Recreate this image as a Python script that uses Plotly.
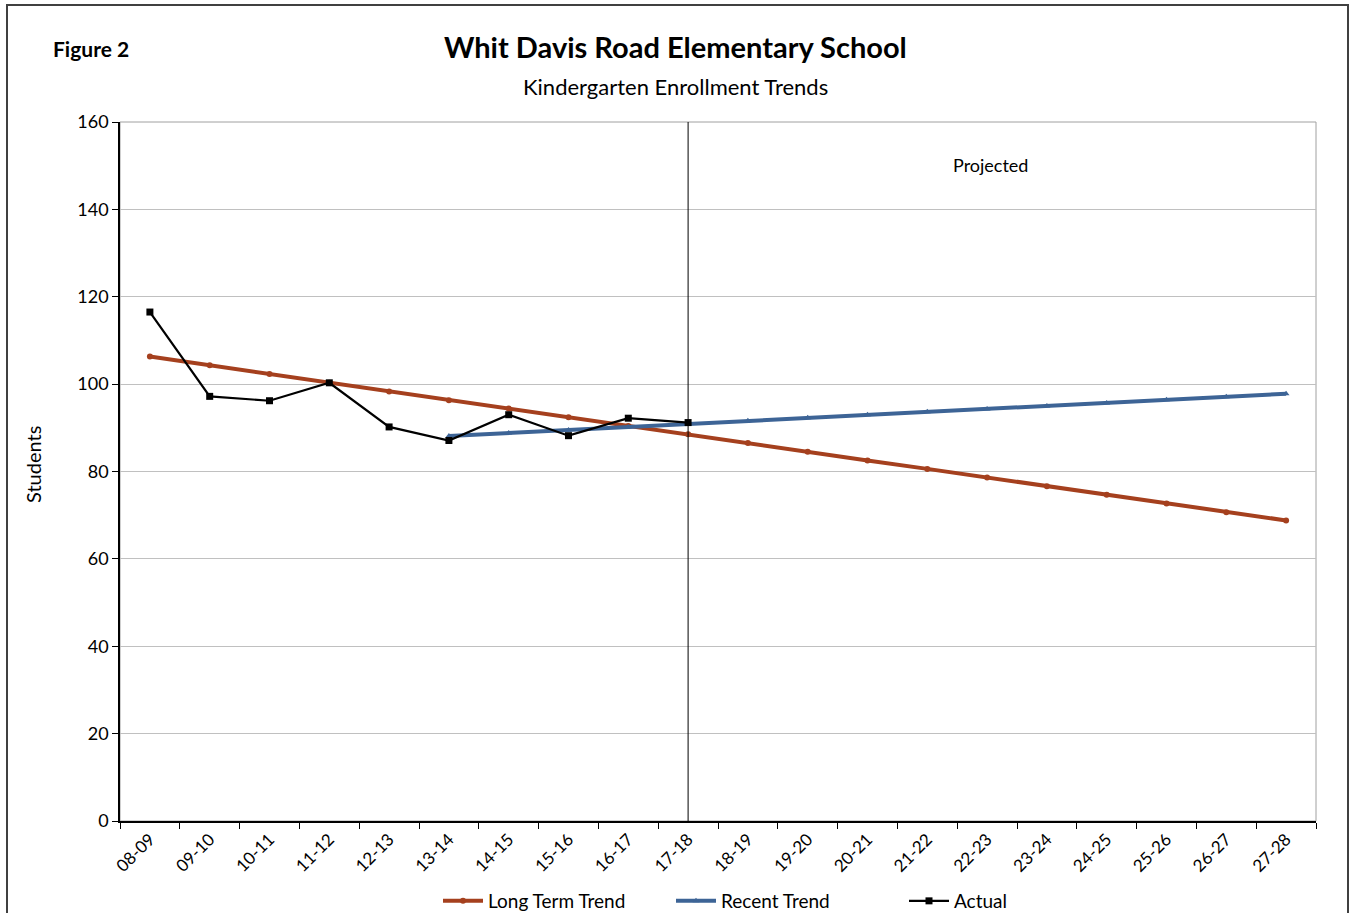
import plotly.graph_objects as go

categories = ["08-09", "09-10", "10-11", "11-12", "12-13", "13-14", "14-15", "15-16", "16-17", "17-18",
              "18-19", "19-20", "20-21", "21-22", "22-23", "23-24", "24-25", "25-26", "26-27", "27-28"]
long_term = [106.3, 104.3, 102.3, 100.3, 98.3, 96.3, 94.4, 92.4, 90.4, 88.5,
             86.5, 84.5, 82.5, 80.6, 78.6, 76.6, 74.7, 72.7, 70.7, 68.8]
recent = [None, None, None, None, None, 88.1, 88.8, 89.5, 90.2, 90.9,
          91.6, 92.3, 93.0, 93.7, 94.3, 95.0, 95.7, 96.4, 97.1, 97.8]
actual = [116.5, 97.2, 96.2, 100.3, 90.2, 87.1, 93.0, 88.2, 92.2, 91.2]
yticks = [0, 20, 40, 60, 80, 100, 120, 140, 160]
divider_label = "17-18"

FONT = "Lato, 'Open Sans', sans-serif"
W, H = 1351, 913
L, R, T, B = 120, 35, 122, 92
PW, PH = W - L - R, H - T - B


def px(x):
    return (x - L) / PW


def py(y):
    return (H - B - y) / PH


fig = go.Figure()
fig.add_trace(go.Scatter(x=categories, y=long_term, name="Long Term Trend", mode="lines+markers",
                         line=dict(color="#A5401E", width=4),
                         marker=dict(symbol="circle", size=6, color="#A5401E")))
fig.add_trace(go.Scatter(x=categories, y=recent, name="Recent Trend", mode="lines+markers",
                         line=dict(color="#3D6496", width=4),
                         marker=dict(symbol="triangle-up", size=6, color="#3D6496")))
fig.add_trace(go.Scatter(x=categories[:len(actual)], y=actual, name="Actual", mode="lines+markers",
                         line=dict(color="#000000", width=2.2),
                         marker=dict(symbol="square", size=7, color="#000000")))

div_idx = categories.index(divider_label)
shapes = [
    dict(type="rect", xref="paper", yref="paper", x0=0, x1=1, y0=0, y1=1,
         line=dict(color="#A0A0A0", width=1), layer="below"),
    dict(type="line", xref="x", yref="paper", x0=div_idx, x1=div_idx, y0=0, y1=1,
         line=dict(color="#000000", width=1)),
    dict(type="rect", xref="paper", yref="paper", x0=px(7), x1=px(1348), y0=py(930), y1=py(5),
         line=dict(color="#404040", width=2)),
]

fig.update_layout(
    width=W, height=H,
    margin=dict(l=L, r=R, t=T, b=B, autoexpand=False),
    paper_bgcolor="white", plot_bgcolor="white",
    font=dict(family=FONT, color="#000000"),
    showlegend=True,
    legend=dict(orientation="h", xref="container", yref="container",
                x=438 / W, xanchor="left", y=1 - 901 / H, yanchor="middle",
                font=dict(size=19, family=FONT), itemwidth=40, traceorder="normal",
                entrywidth=178, entrywidthmode="pixels"),
    shapes=shapes,
    annotations=[
        dict(text="<b>Whit Davis Road Elementary School</b>", xref="paper", yref="paper",
             x=px(675), y=py(46), xanchor="center", yanchor="middle",
             showarrow=False, font=dict(size=29, family=FONT)),
        dict(text="Kindergarten Enrollment Trends", xref="paper", yref="paper",
             x=px(675), y=py(86), xanchor="center", yanchor="middle",
             showarrow=False, font=dict(size=22, family=FONT)),
        dict(text="<b>Figure 2</b>", xref="paper", yref="paper",
             x=px(91), y=py(49), xanchor="center", yanchor="middle",
             showarrow=False, font=dict(size=21, family=FONT)),
        dict(text="Projected", xref="paper", yref="paper",
             x=px(990), y=py(165), xanchor="center", yanchor="middle",
             showarrow=False, font=dict(size=18, family=FONT)),
        dict(text="Students", xref="paper", yref="paper", textangle=-90,
             x=px(33), y=py(465), xanchor="center", yanchor="middle",
             showarrow=False, font=dict(size=20, family=FONT)),
    ],
)

fig.update_xaxes(type="category", categoryorder="array", categoryarray=categories,
                 range=[-0.5, len(categories) - 0.5], autorange=False,
                 tickson="boundaries", ticks="outside", ticklen=6, tickcolor="#000000",
                 showline=True, linecolor="#000000", linewidth=1.5, showgrid=False,
                 tickangle=-45, tickfont=dict(size=17, family=FONT), zeroline=False,
                 automargin=False)
fig.update_yaxes(range=[0, 160], tickvals=yticks, ticks="outside", ticklen=6, tickcolor="#000000",
                 showline=True, linecolor="#000000", linewidth=1.5,
                 showgrid=True, gridcolor="#C0C0C0", gridwidth=1, zeroline=False,
                 tickfont=dict(size=18, family=FONT), automargin=False)

fig.write_html("out.html", config={"displayModeBar": False},
               post_script="document.body.style.margin='0';document.body.style.overflow='hidden';")
